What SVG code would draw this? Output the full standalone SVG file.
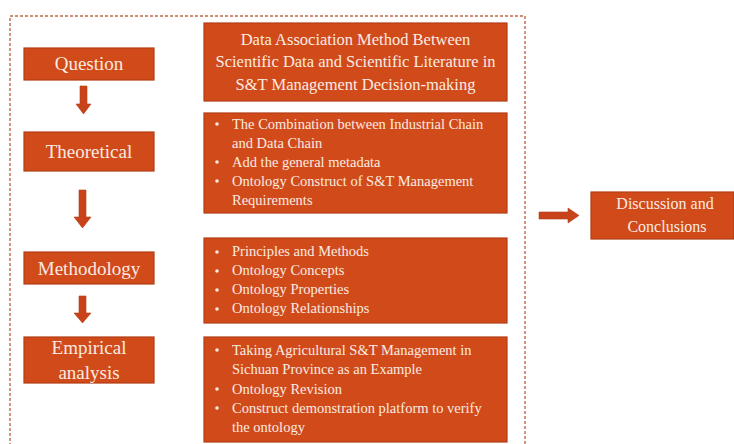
<svg xmlns="http://www.w3.org/2000/svg" width="734" height="444" viewBox="0 0 734 444">
  <style>
    .box { fill: #D14A19; stroke: #B33D14; stroke-width: 1.2; }
    .lbl { font-family: "Liberation Serif", "Times New Roman", serif; fill: #FAEBE2; }
    .step { font-size: 19px; text-anchor: middle; }
    .head { font-size: 16.5px; text-anchor: middle; }
    .item { font-size: 14.5px; }
    .dot { fill: #FAEBE2; }
    .arrow { fill: #C9431A; stroke: #B33D14; stroke-width: 0.6; }
    .frame { fill: none; stroke: #C0664A; stroke-width: 1.4; stroke-dasharray: 3 2; }
  </style>

  <!-- dashed frame around the study stages -->
  <rect class="frame" x="10" y="16" width="515" height="440"/>

  <!-- connectors -->
  <g id="connectors">
    <polygon class="arrow" points="80,86 87,86 87,104 91,104 83.5,114 76,104 80,104"/>
    <polygon class="arrow" points="79,190 86,190 86,217 91,217 82.5,228 74,217 79,217"/>
    <polygon class="arrow" points="79,296 86,296 86,313 91,313 82.5,323 74,313 79,313"/>
    <polygon class="arrow" points="539,212 568,212 568,208 579,215.5 568,223 568,219 539,219"/>
  </g>

  <!-- left-hand stages -->
  <g id="question">
    <rect class="box" x="24" y="48" width="130" height="32"/>
    <text class="lbl step" x="89" y="69.5">Question</text>
  </g>
  <g id="theoretical">
    <rect class="box" x="24" y="132" width="130" height="39"/>
    <text class="lbl step" x="89" y="157.5">Theoretical</text>
  </g>
  <g id="methodology">
    <rect class="box" x="24" y="252" width="130" height="32"/>
    <text class="lbl step" x="89" y="274.5">Methodology</text>
  </g>
  <g id="empirical">
    <rect class="box" x="24" y="337" width="130" height="46"/>
    <text class="lbl step" x="89" y="353.5">Empirical</text>
    <text class="lbl step" x="89" y="378.5">analysis</text>
  </g>

  <!-- right-hand content boxes -->
  <g id="title">
    <rect class="box" x="204" y="23" width="303" height="78"/>
    <text class="lbl head" x="355.5" y="45">Data Association Method Between</text>
    <text class="lbl head" x="355.5" y="67">Scientific Data and Scientific Literature in</text>
    <text class="lbl head" x="355.5" y="90">S&amp;T Management Decision-making</text>
  </g>

  <g id="theory-items">
    <rect class="box" x="204" y="113" width="303" height="100"/>
    <circle class="dot" cx="217" cy="124" r="1.8"/>
    <circle class="dot" cx="217" cy="162" r="1.8"/>
    <circle class="dot" cx="217" cy="181" r="1.8"/>
    <text class="lbl item" x="232" y="129">The Combination between Industrial Chain</text>
    <text class="lbl item" x="232" y="148">and Data Chain</text>
    <text class="lbl item" x="232" y="167">Add the general metadata</text>
    <text class="lbl item" x="232" y="186">Ontology Construct of S&amp;T Management</text>
    <text class="lbl item" x="232" y="205">Requirements</text>
  </g>

  <g id="method-items">
    <rect class="box" x="204" y="238" width="303" height="85"/>
    <circle class="dot" cx="217" cy="252" r="1.8"/>
    <circle class="dot" cx="217" cy="271" r="1.8"/>
    <circle class="dot" cx="217" cy="290" r="1.8"/>
    <circle class="dot" cx="217" cy="309" r="1.8"/>
    <text class="lbl item" x="232" y="256">Principles and Methods</text>
    <text class="lbl item" x="232" y="275">Ontology Concepts</text>
    <text class="lbl item" x="232" y="294">Ontology Properties</text>
    <text class="lbl item" x="232" y="313">Ontology Relationships</text>
  </g>

  <g id="empirical-items">
    <rect class="box" x="204" y="337" width="303" height="105"/>
    <circle class="dot" cx="217" cy="350" r="1.8"/>
    <circle class="dot" cx="217" cy="389" r="1.8"/>
    <circle class="dot" cx="217" cy="408" r="1.8"/>
    <text class="lbl item" x="232" y="355">Taking Agricultural  S&amp;T Management in</text>
    <text class="lbl item" x="232" y="374">Sichuan Province as an Example</text>
    <text class="lbl item" x="232" y="394">Ontology Revision</text>
    <text class="lbl item" x="232" y="413">Construct demonstration platform to verify</text>
    <text class="lbl item" x="232" y="432">the ontology</text>
  </g>

  <g id="discussion">
    <rect class="box" x="591" y="192" width="143" height="47"/>
    <text class="lbl head" x="665" y="209" style="font-size:16px">Discussion and</text>
    <text class="lbl head" x="667" y="232" style="font-size:16px">Conclusions</text>
  </g>
</svg>
